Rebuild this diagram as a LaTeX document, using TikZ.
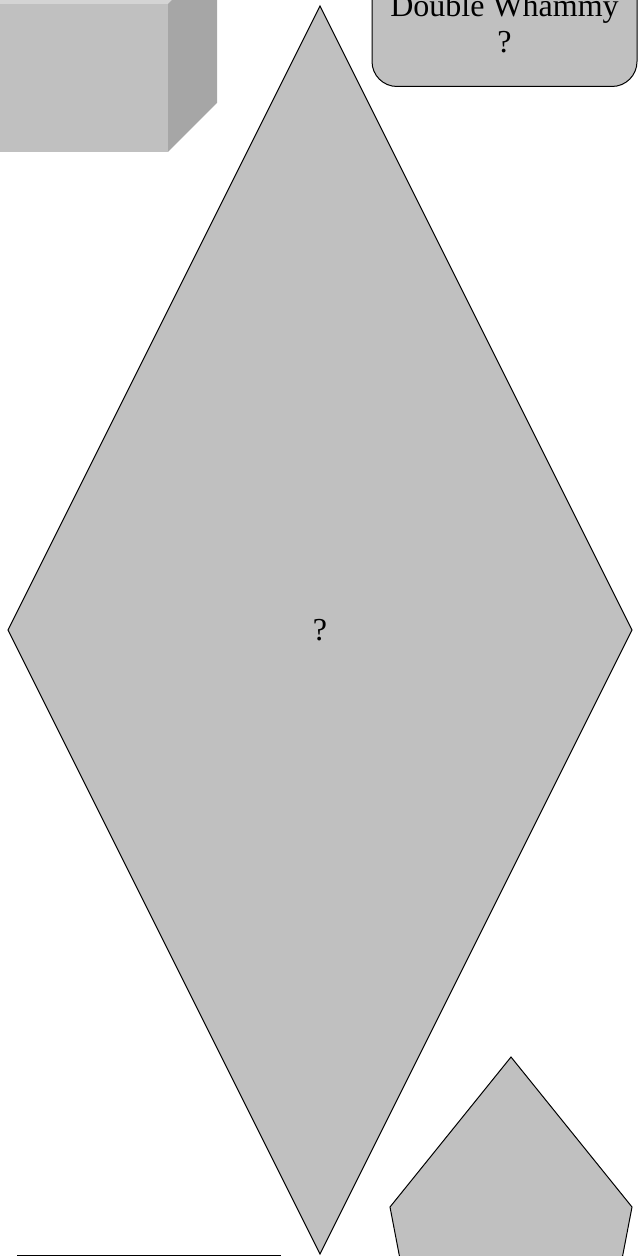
\documentclass[tikz,border=0pt]{standalone}
\usepackage{fontspec}
\setmainfont{Liberation Serif}
\usepackage{xcolor}
\usetikzlibrary{
shapes.geometric,
positioning,
calc
}

\definecolor{shapegray}{HTML}{C0C0C0}
\definecolor{sidegray}{HTML}{A6A6A6}
\definecolor{topgray}{HTML}{D4D4D4}

\begin{document}
\begin{tikzpicture}[
x=0.5pt,y=-0.5pt,
label/.style={font=\fontsize{16}{18}\selectfont,align=center,inner sep=0pt},
roundbox/.style={
draw,
line width=0.5pt,
fill=shapegray,
rounded corners=12.5pt,
minimum width=132.5pt,
minimum height=70pt,
inner sep=0pt
},
bigdiamond/.style={
diamond,
draw,
line width=0.5pt,
fill=shapegray,
minimum width=312pt,
minimum height=624pt,
inner sep=0pt,
outer sep=0pt,
font=\fontsize{16}{18}\selectfont
},
face/.style={fill=#1,draw=none},
outline/.style={draw,line width=0.5pt}
]
\useasboundingbox (0,0) rectangle (639,1256);
\clip (0,0) rectangle (639,1256);

% box in the corner
\fill[face=shapegray] (-30,4) rectangle (168,152);
\fill[face=topgray] (-30,4) -- (168,4) -- (217,-45) -- (19,-45) -- cycle;
\fill[face=sidegray] (168,4) -- (217,-45) -- (217,103) -- (168,152) -- cycle;

% rounded box
\node[roundbox,anchor=south] (whammy) at (504.5,87) {};
\node[label,anchor=north] (whammytext) at (whammy.south |- 0,-6) {Double Whammy\\?};

% decision
\node[bigdiamond] (choice) at (320,630) {?};

% pentagon
\coordinate (ptop) at (511,1057);
\draw[outline,fill=shapegray] (ptop) -- (632,1207) -- (585.5,1449) -- (436.5,1449) -- (390,1207) -- cycle;

% bottom line
\coordinate (lstart) at (17,1255);
\coordinate (lend) at (281,1255);
\draw[line width=0.5pt] (lstart) -- (lend);

\end{tikzpicture}
\end{document}
